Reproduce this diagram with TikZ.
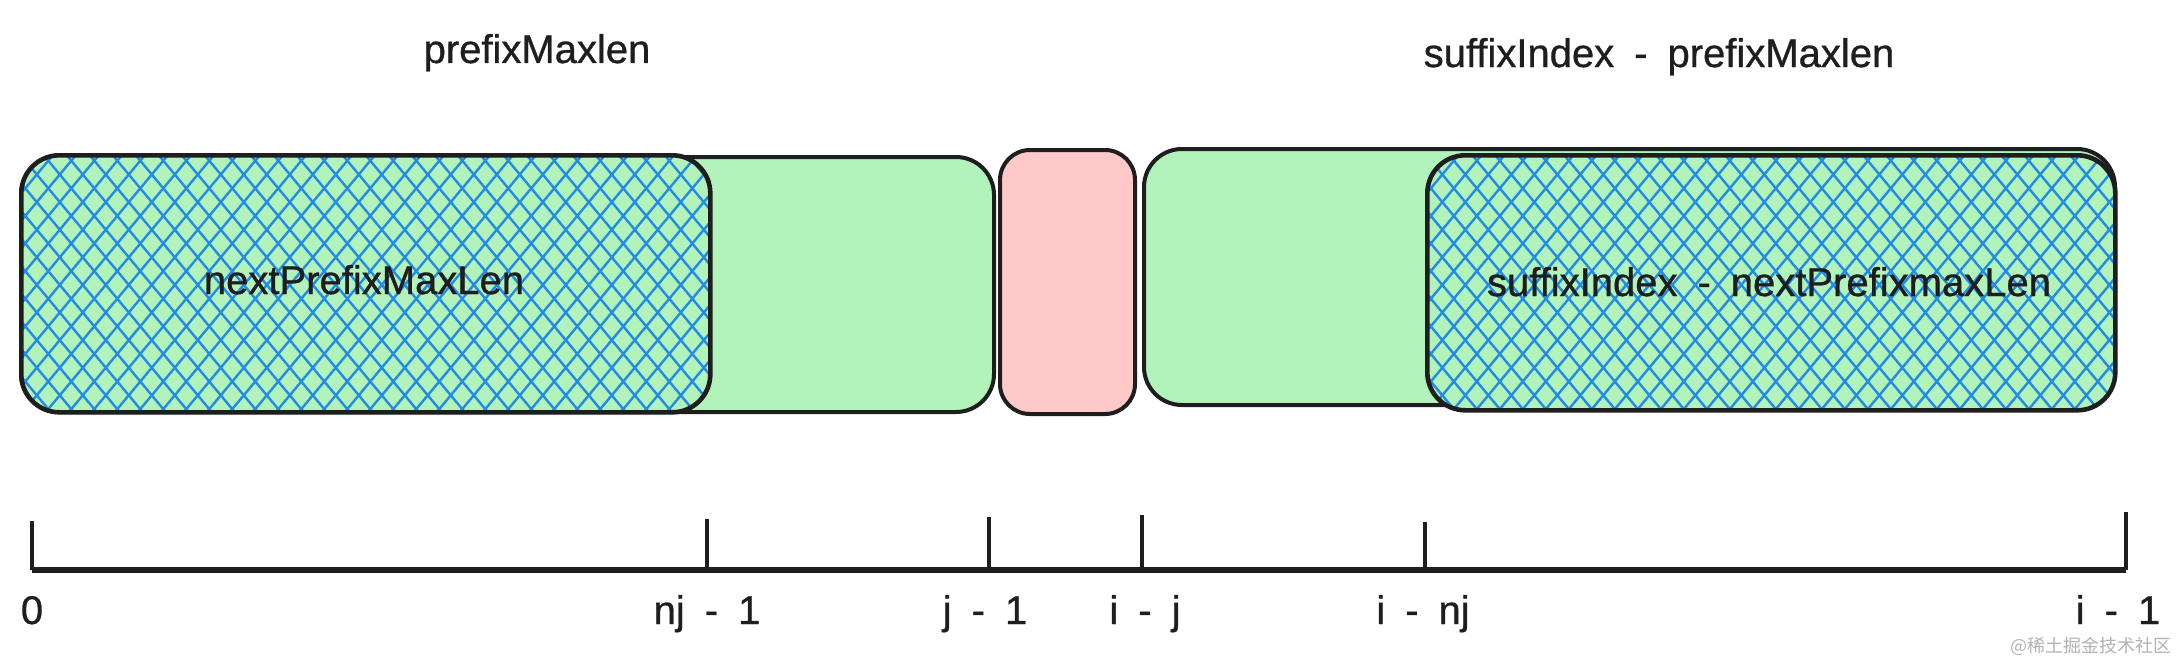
\documentclass[tikz,border=0pt]{standalone}
\usepackage{fontspec}
\setmainfont[WordSpace=1.8, FakeBold=0.8]{Liberation Sans}
\newfontfamily\cjk{Noto Sans CJK SC}
\definecolor{boxgreen}{HTML}{B2F2BB}
\definecolor{boxpink}{HTML}{FFC9C9}
\definecolor{hatchblue}{HTML}{228BE6}
\definecolor{inkblack}{HTML}{1E1E1E}
\tikzset{
  basebox/.style={draw=inkblack, line width=4pt, rounded corners=38pt, inner sep=0pt, anchor=north west},
  greenbox/.style={basebox, fill=boxgreen},
  pinkbox/.style={basebox, fill=boxpink, rounded corners=30pt},
  hatchline/.style={draw=hatchblue, line width=2.4pt},
  hatched/.style={greenbox, line width=4.6pt, path picture={
      \foreach \k in {-36,...,36} {
        \draw[hatchline] ([xshift=\k*23pt]path picture bounding box.north) -- ++(250pt,-300pt);
        \draw[hatchline] ([xshift=\k*23pt+9pt]path picture bounding box.north) -- ++(-250pt,-300pt);
      }}},
  lbl/.style={font=\fontsize{40}{48}\selectfont, text=inkblack, inner sep=0pt, anchor=base},
  axisline/.style={draw=inkblack, line width=6pt},
  tickline/.style={draw=inkblack, line width=3.5pt},
}
\begin{document}
\begin{tikzpicture}[x=1pt, y=-1pt]
\useasboundingbox (0,0) rectangle (2181,661);
% top labels
\node[lbl] (topL) at (537,63) {prefixMaxlen};
\node[lbl] (topR) at (1659,67) {suffixIndex - prefixMaxlen};
% left block
\node[greenbox, minimum width=973pt, minimum height=255pt] (gL) at (19,155) {};
\node[hatched, minimum width=689pt, minimum height=257pt] (hL) at (19,153) {};
\node[lbl] (tL) at (364,294) {nextPrefixMaxLen};
% pink block
\node[pinkbox, minimum width=135pt, minimum height=264pt] (pk) at (998,148) {};
% right block
\node[greenbox, minimum width=971pt, minimum height=256pt] (gR) at (1142,147) {};
\node[hatched, minimum width=688pt, minimum height=255pt] (hR) at (1425,153) {};
\node[lbl] (tR) at (1769,296) {suffixIndex - nextPrefixmaxLen};
% axis
\coordinate (a0) at (32,570);
\coordinate (a1) at (707,570);
\coordinate (a2) at (989,570);
\coordinate (a3) at (1142,570);
\coordinate (a4) at (1425,570);
\coordinate (a5) at (2126,570);
\draw[axisline] (a0) -- (a5);
\foreach \c/\h in {a0/49,a1/51,a2/53,a3/55,a4/48,a5/58} {
  \draw[tickline] (\c) -- ++(0pt,\h pt);
}
\node[lbl] (l0) at (32,624) {0};
\node[lbl] (l1) at (707,624) {nj - 1};
\node[lbl] (l2) at (985,624) {j - 1};
\node[lbl] (l3) at (1145,624) {i - j};
\node[lbl] (l4) at (1423,624) {i - nj};
\node[lbl] (l5) at (2118,624) {i - 1};
% watermark
\node[font=\cjk\fontsize{18}{20}\selectfont, text=black!30, inner sep=0pt, anchor=east] (wm) at (2172,646) {@稀土掘金技术社区};
\end{tikzpicture}
\end{document}
